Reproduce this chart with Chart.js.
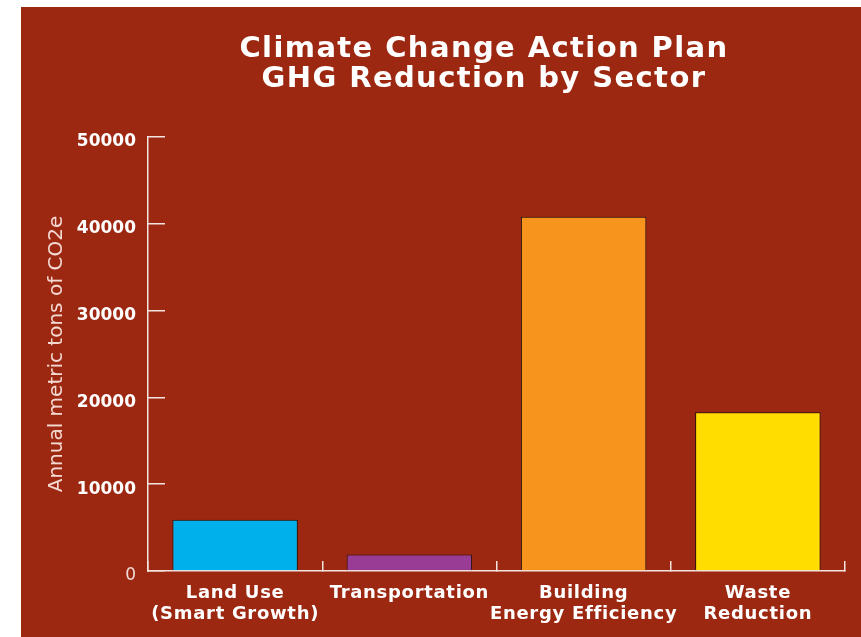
<!DOCTYPE html>
<html>
<head>
<meta charset="utf-8">
<script src="https://cdn.jsdelivr.net/npm/chart.js@4"></script>
<style>
  html, body { margin: 0; padding: 0; background: #ffffff; }
  body { width: 861px; height: 637px; position: relative; overflow: hidden; }
  #panel {
    position: absolute; left: 21px; top: 7px; width: 840px; height: 630px;
    background: #9d2811;
  }
  #title {
    position: absolute; left: 84px; width: 800px; top: 32px;
    text-align: center; color: #ffffff; letter-spacing: 1.4px;
    font: bold 29px "DejaVu Sans", Verdana, sans-serif; line-height: 30px;
  }
</style>
</head>
<body>
<div id="panel"><canvas id="ghgChart"></canvas></div>
<div id="title">Climate Change Action Plan<br>GHG Reduction by Sector</div>
<script>
const sectors = [
    ['Land Use', '(Smart Growth)'],
    'Transportation',
    ['Building', 'Energy Efficiency'],
    ['Waste', 'Reduction']
];
const reductions = [5900, 1900, 40800, 18300];
const barColors = ['#00b0ea', '#993c96', '#f7941e', '#ffdd00'];
const yMin = 0;
const yMax = 50000;
const yStep = 10000;

const axisColor = '#f3e4e0';
const fontFamily = '"DejaVu Sans", Verdana, sans-serif';

// category labels are drawn after the bars (ticks.z = 1), so widen their spacing there
const spacedLabels = {
    id: 'spacedLabels',
    afterDatasetsDraw(chart) {
        chart.ctx.letterSpacing = '0.7px';
    },
    afterDraw(chart) {
        chart.ctx.letterSpacing = '0px';
    }
};

const ctx = document.getElementById('ghgChart').getContext('2d');

new Chart(ctx, {
    type: 'bar',
    data: {
        labels: sectors,
        datasets: [{
            label: 'GHG Reduction',
            data: reductions,
            backgroundColor: barColors,
            borderColor: '#1a1210',
            borderWidth: 1,
            categoryPercentage: 1,
            barPercentage: 0.72
        }]
    },
    plugins: [spacedLabels],
    options: {
        responsive: true,
        maintainAspectRatio: false,
        animation: false,
        layout: {
            padding: { top: 130, right: 16, bottom: 0, left: 0 }
        },
        plugins: {
            legend: { display: false },
            title: { display: false },
            tooltip: { enabled: false }
        },
        scales: {
            x: {
                afterFit: (scale) => { scale.height = 66; },
                border: { color: axisColor, width: 1.5 },
                grid: {
                    offset: true,
                    drawOnChartArea: false,
                    color: axisColor,
                    lineWidth: 1.5,
                    tickLength: -10
                },
                ticks: {
                    z: 1,
                    color: '#ffffff',
                    padding: 22,
                    maxRotation: 0,
                    autoSkip: false,
                    font: { family: fontFamily, size: 18, weight: 'bold', lineHeight: 1.17 }
                }
            },
            y: {
                min: yMin,
                max: yMax,
                afterFit: (scale) => { scale.width = 127; },
                border: { color: axisColor, width: 1.5 },
                grid: {
                    drawOnChartArea: false,
                    color: axisColor,
                    lineWidth: 1.5,
                    tickLength: -17
                },
                ticks: {
                    stepSize: yStep,
                    labelOffset: 5,
                    callback: (value) => String(value),
                    color: (c) => c.tick && c.tick.value === 0 ? '#f0dcd6' : '#ffffff',
                    padding: 29,
                    font: (c) => ({
                        family: fontFamily,
                        size: 17,
                        weight: c.tick && c.tick.value === 0 ? 'normal' : 'bold'
                    })
                },
                title: {
                    display: true,
                    text: 'Annual metric tons of CO2e',
                    color: '#f3d9d2',
                    padding: { top: 24, bottom: 0 },
                    font: { family: fontFamily, size: 20, weight: 'normal' }
                }
            }
        }
    }
});
</script>
</body>
</html>
